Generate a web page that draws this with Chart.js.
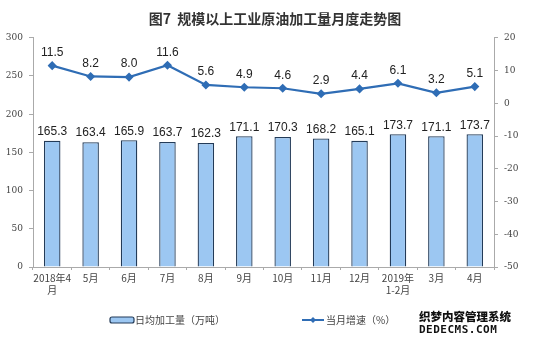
<!DOCTYPE html>
<html>
<head>
<meta charset="utf-8">
<script src="https://cdn.jsdelivr.net/npm/chart.js@4"></script>
<style>
  html, body { margin: 0; padding: 0; background: #fff; }
  #wrap { position: relative; width: 550px; height: 350px; }
  #wm { position: absolute; left: 419px; top: 309px; font-family: "Noto Sans CJK SC"; font-weight: 900; font-size: 11.5px; line-height: 14px; color: #111; }
  #wm div:last-child { font-family: "DejaVu Sans Mono"; font-weight: bold; font-size: 11px; letter-spacing: 0.5px; }
</style>
</head>
<body>
<div id="wrap">
  <canvas id="grafica" width="550" height="350"></canvas>
  <div id="wm"><div>织梦内容管理系统</div><div>DEDECMS.COM</div></div>
</div>
<script>
// Datos
const categorias = [["2018年4", "月"], "5月", "6月", "7月", "8月", "9月", "10月", "11月", "12月", ["2019年", "1-2月"], "3月", "4月"];
const jiagong = [165.3, 163.4, 165.9, 163.7, 162.3, 171.1, 170.3, 168.2, 165.1, 173.7, 171.1, 173.7];
const zengsu = [11.5, 8.2, 8.0, 11.6, 5.6, 4.9, 4.6, 2.9, 4.4, 6.1, 3.2, 5.1];
const ticksIzq = [0, 50, 100, 150, 200, 250, 300];
const ticksDer = [-50, -40, -30, -20, -10, 0, 10, 20];

const azulBarra = "#9cc7f2";
const bordeBarra = "#233b58";
const azulLinea = "#2f6db5";
const fuenteEje = "'Noto Sans CJK SC', 'DejaVu Serif'";

// Etiquetas de valor y leyenda
const etiquetas = {
  id: "etiquetas",
  afterDatasetsDraw(chart) {
    const ctx = chart.ctx;
    ctx.save();
    ctx.font = "12px 'Liberation Sans', Arial";
    ctx.fillStyle = "#222";
    ctx.textAlign = "center";
    ctx.textBaseline = "bottom";
    chart.getDatasetMeta(0).data.forEach((el, i) => {
      ctx.fillText(jiagong[i].toFixed(1), el.x, el.y - 3);
    });
    chart.getDatasetMeta(1).data.forEach((el, i) => {
      ctx.fillText(zengsu[i].toFixed(1), el.x, el.y - 7);
    });

    // leyenda
    ctx.font = "10px " + fuenteEje;
    ctx.textBaseline = "middle";
    ctx.textAlign = "left";
    const y = 320;
    ctx.fillStyle = azulBarra;
    ctx.strokeStyle = bordeBarra;
    ctx.lineWidth = 1.2;
    ctx.beginPath();
    ctx.roundRect(110, y - 3, 24, 6, 2);
    ctx.fill();
    ctx.stroke();
    ctx.fillStyle = "#444";
    ctx.fillText("日均加工量（万吨）", 135, y);

    ctx.strokeStyle = azulLinea;
    ctx.lineWidth = 2;
    ctx.beginPath();
    ctx.moveTo(302, y);
    ctx.lineTo(324, y);
    ctx.stroke();
    ctx.fillStyle = azulLinea;
    ctx.beginPath();
    ctx.moveTo(313, y - 3); ctx.lineTo(316, y); ctx.lineTo(313, y + 3); ctx.lineTo(310, y);
    ctx.fill();
    ctx.fillStyle = "#444";
    ctx.fillText("当月增速（%）", 326, y);
    ctx.restore();
  }
};

new Chart(document.getElementById("grafica"), {
  data: {
    labels: categorias,
    datasets: [{
      type: "bar",
      label: "日均加工量（万吨）",
      data: jiagong,
      yAxisID: "y",
      backgroundColor: azulBarra,
      borderColor: bordeBarra,
      borderWidth: 1.3,
      categoryPercentage: 1,
      barPercentage: 0.43,
      order: 2
    }, {
      type: "line",
      label: "当月增速（%）",
      data: zengsu,
      yAxisID: "y1",
      borderColor: azulLinea,
      backgroundColor: azulLinea,
      borderWidth: 2.2,
      pointStyle: "rectRot",
      pointRadius: 3,
      tension: 0,
      order: 1
    }]
  },
  options: {
    responsive: false,
    animation: false,
    layout: { padding: { top: 10, left: 0, right: 0, bottom: 52 } },
    plugins: {
      legend: { display: false },
      tooltip: { enabled: false },
      title: {
        display: true,
        text: "图7  规模以上工业原油加工量月度走势图",
        font: { family: "'Noto Sans CJK SC'", size: 14, weight: "bold" },
        color: "#333",
        padding: { top: 0, bottom: 11 },
        align: "center"
      }
    },
    scales: {
      x: {
        offset: true,
        grid: { display: true, drawOnChartArea: false, offset: true, tickLength: 3, color: "#aaa" },
        border: { color: "#aaa" },
        ticks: { color: "#444", font: { family: fuenteEje, size: 10 }, maxRotation: 0, autoSkip: false, padding: 2 }
      },
      y: {
        position: "left",
        min: 0, max: 300,
        afterBuildTicks: a => { a.ticks = ticksIzq.map(v => ({ value: v })); },
        afterFit: a => { a.width = 33; },
        grid: { display: true, drawOnChartArea: false, tickLength: 4, color: "#aaa" },
        border: { color: "#aaa" },
        ticks: { color: "#444", font: { family: "'DejaVu Serif'", size: 9 }, padding: 6 }
      },
      y1: {
        position: "right",
        min: -50, max: 20,
        afterBuildTicks: a => { a.ticks = ticksDer.map(v => ({ value: v })); },
        afterFit: a => { a.width = 56; },
        grid: { display: true, drawOnChartArea: false, tickLength: 4, color: "#aaa" },
        border: { color: "#aaa" },
        ticks: { color: "#444", font: { family: "'DejaVu Serif'", size: 9 }, padding: 6 }
      }
    }
  },
  plugins: [etiquetas]
});
</script>
</body>
</html>
